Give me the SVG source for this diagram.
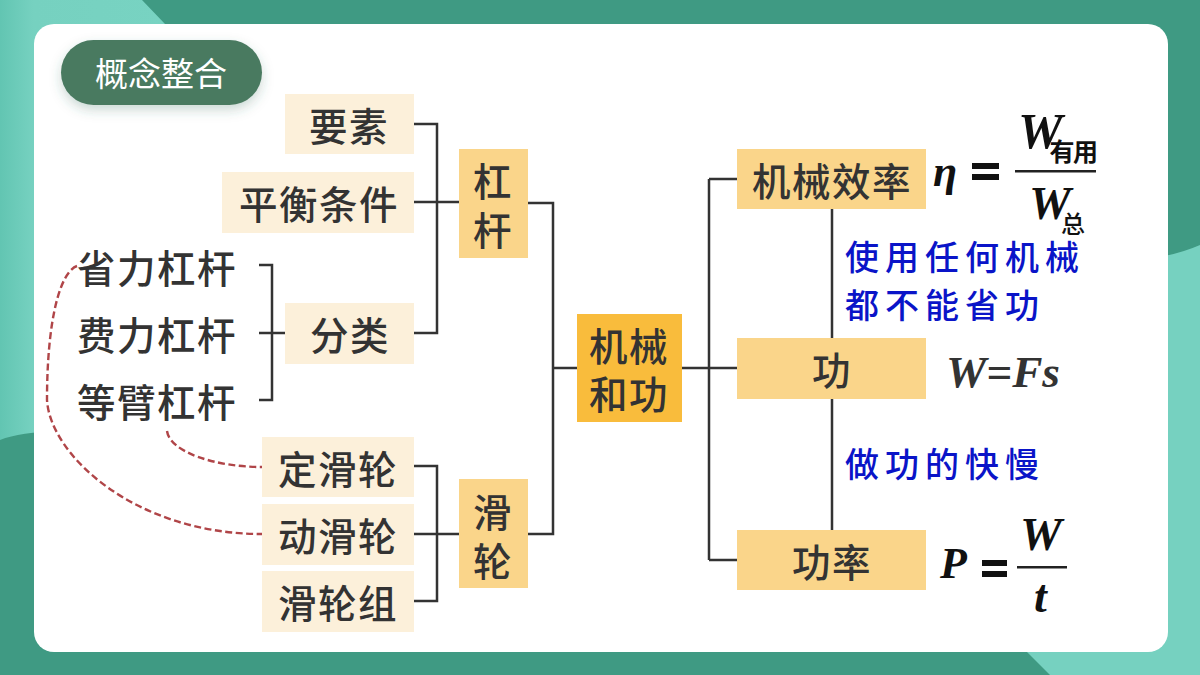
<svg xmlns="http://www.w3.org/2000/svg" width="1200" height="675" viewBox="0 0 1200 675">
<defs>
<linearGradient id="teal" x1="0" y1="0" x2="1" y2="0"><stop offset="0" stop-color="#62c5b2"/><stop offset="0.2" stop-color="#76d1c0"/><stop offset="1" stop-color="#78d3c2"/></linearGradient>
<filter id="sh" x="-20%" y="-30%" width="140%" height="170%"><feDropShadow dx="0" dy="5" stdDeviation="6" flood-color="#2f6a55" flood-opacity="0.25"/></filter>
</defs>
<style>
.cjk{font-family:"Noto Sans CJK SC","Noto Sans",sans-serif;fill:#333;font-size:38.5px;font-weight:500;text-anchor:middle;letter-spacing:1.5px}
.blue{font-family:"Noto Sans CJK SC",sans-serif;fill:#0a14c8;font-size:34px;font-weight:500;letter-spacing:6px}
.math{font-family:"Liberation Serif","Times New Roman",serif;font-style:italic;font-weight:bold;fill:#111}
.c{fill:none;stroke:#333;stroke-width:2.5}
.d{fill:none;stroke:#b04548;stroke-width:2.4;stroke-dasharray:7 3.5}
.lt{fill:#fcf0da}.md{fill:#fad58a}.dk{fill:#f9bc3c}
</style>
<rect width="1200" height="675" fill="#3f9a83"/>
<path d="M0 0H142L165 24H60V100H60V431Q20 432 0 440Z" fill="url(#teal)"/>
<path d="M1140 260Q1175 256 1200 245V675H1050L1027 652H1140Z" fill="#76d1c0"/>
<rect x="34" y="24" width="1134" height="628" rx="20" fill="#fff"/>
<g id="title" filter="url(#sh)"><rect x="61" y="40" width="201" height="65" rx="32.5" fill="#4a7a61"/></g>
<text x="161" y="86" font-family="'Noto Sans CJK SC',sans-serif" font-size="33" fill="#fff" text-anchor="middle">概念整合</text>
<g id="connectors">
<path class="c" d="M414 124H437V333H414M414 202H459M528 203H553V534H528M553 368H577M682 368H737M709 179V560M737 179H709M737 560H709M832 209V338M832 399V530"/>
<path class="c" d="M259 265H272V400H259M259 333H285"/>
<path class="c" d="M414 466H437V601H414M414 534H459"/>
<path class="d" d="M77 266C60 272 47 320 47 400C50 455 135 534 262 534"/>
<path class="d" d="M167 431C170 452 215 467 262 467"/>
</g>
<g id="n-yaosu"><rect class="lt" x="285" y="94" width="129" height="60"/><text class="cjk" x="349" y="141">要素</text></g>
<g id="n-pingheng"><rect class="lt" x="222" y="172" width="192" height="61"/><text class="cjk" x="319" y="219">平衡条件</text></g>
<g id="n-fenlei"><rect class="lt" x="285" y="303" width="129" height="61"/><text class="cjk" x="350" y="350">分类</text></g>
<g id="n-gangan"><rect class="md" x="459" y="149" width="69" height="109"/><text class="cjk" x="493" y="196">杠</text><text class="cjk" x="493" y="245">杆</text></g>
<g id="n-huasheng"><rect class="md" x="459" y="479" width="69" height="109"/><text class="cjk" x="493" y="527">滑</text><text class="cjk" x="493" y="576">轮</text></g>
<g id="n-root"><rect class="dk" x="577" y="314" width="105" height="108"/><text class="cjk" x="629" y="361">机械</text><text class="cjk" x="629" y="409">和功</text></g>
<g id="n-sheng"><text class="cjk" x="157" y="283">省力杠杆</text></g>
<g id="n-fei"><text class="cjk" x="157" y="350">费力杠杆</text></g>
<g id="n-deng"><text class="cjk" x="157" y="417">等臂杠杆</text></g>
<g id="n-ding"><rect class="lt" x="262" y="437" width="152" height="60"/><text class="cjk" x="338" y="484">定滑轮</text></g>
<g id="n-dong"><rect class="lt" x="262" y="504" width="152" height="61"/><text class="cjk" x="338" y="551">动滑轮</text></g>
<g id="n-zu"><rect class="lt" x="262" y="571" width="152" height="61"/><text class="cjk" x="338" y="618">滑轮组</text></g>
<g id="n-xiaolv"><rect class="md" x="737" y="149" width="189" height="60"/><text class="cjk" x="832" y="196">机械效率</text></g>
<g id="n-gong"><rect class="md" x="737" y="338" width="189" height="61"/><text class="cjk" x="832" y="385">功</text></g>
<g id="n-gonglv"><rect class="md" x="737" y="530" width="189" height="60"/><text class="cjk" x="832" y="577">功率</text></g>
<text class="blue" x="845" y="270">使用任何机械</text>
<text class="blue" x="845" y="318">都不能省功</text>
<text class="blue" x="845" y="477">做功的快慢</text>
<g id="f-eta">
<text class="math" x="933" y="186" font-size="44">η</text>
<rect x="972" y="163" width="27" height="6" fill="#111"/><rect x="972" y="174" width="27" height="6" fill="#111"/>
<rect x="1015" y="170" width="81" height="2.5" fill="#222"/>
<text class="math" x="1018" y="148" font-size="50">W</text>
<text x="1073" y="161" font-family="'Noto Sans CJK SC',sans-serif" font-size="25" font-weight="700" fill="#111" text-anchor="middle" letter-spacing="-1.5">有用</text>
<text class="math" x="1029" y="219" font-size="47">W</text>
<text x="1073" y="233" font-family="'Noto Sans CJK SC',sans-serif" font-size="24" font-weight="500" fill="#111" text-anchor="middle">总</text>
</g>
<g id="f-w"><text class="math" x="946" y="387" font-size="45" style="fill:#333" textLength="114" lengthAdjust="spacingAndGlyphs">W=Fs</text></g>
<g id="f-p">
<text class="math" x="940" y="578" font-size="44">P</text>
<rect x="982" y="560" width="25" height="6" fill="#111"/><rect x="982" y="571" width="25" height="6" fill="#111"/>
<rect x="1017" y="566" width="50" height="2.5" fill="#222"/>
<text class="math" x="1020" y="550" font-size="47">W</text>
<text class="math" x="1034" y="612" font-size="46">t</text>
</g>
</svg>
